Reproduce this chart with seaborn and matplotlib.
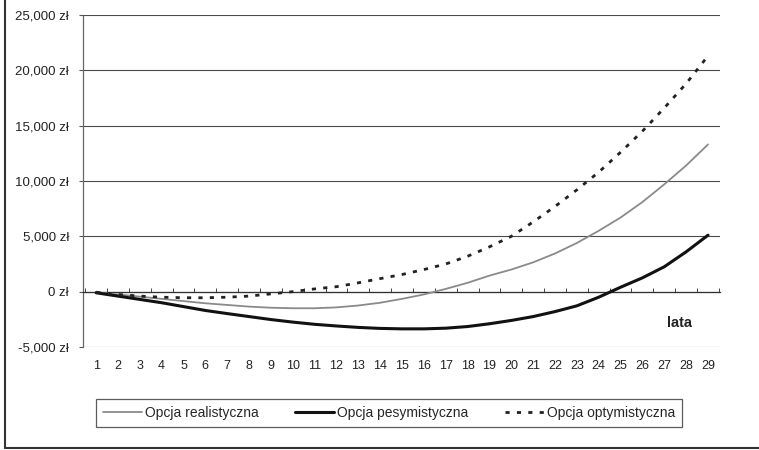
import numpy as np
import pandas as pd
import matplotlib
matplotlib.use("Agg")
import matplotlib.pyplot as plt
from matplotlib.lines import Line2D
from matplotlib.ticker import FuncFormatter, MultipleLocator
import seaborn as sns

# years on the x axis
lata = list(range(1, 30))

# values (zł)
realistyczna = [-50, -250, -450, -650, -850, -1050, -1200, -1350, -1450, -1500,
                -1500, -1420, -1250, -1000, -650, -250, 250, 800, 1450, 2000,
                2650, 3450, 4400, 5500, 6700, 8100, 9700, 11400, 13300]
pesymistyczna = [-100, -400, -700, -1000, -1350, -1700, -1980, -2250, -2520, -2750,
                 -2950, -3100, -3230, -3320, -3360, -3360, -3300, -3150, -2900, -2600,
                 -2250, -1800, -1280, -500, 400, 1250, 2250, 3600, 5100]
optymistyczna = [-50, -250, -400, -500, -550, -550, -500, -400, -200, 0,
                 250, 450, 800, 1180, 1550, 2000, 2500, 3200, 4050, 5000,
                 6300, 7700, 9200, 10800, 12600, 14500, 16600, 18800, 21300]

nazwy = ["Opcja realistyczna", "Opcja pesymistyczna", "Opcja optymistyczna"]
yticks = [-5000, 0, 5000, 10000, 15000, 20000, 25000]

df = pd.DataFrame({"rok": lata, nazwy[0]: realistyczna,
                   nazwy[1]: pesymistyczna, nazwy[2]: optymistyczna})

sns.set_style("white")
plt.rcParams["font.family"] = ["Liberation Sans", "DejaVu Sans"]

fig = plt.figure(figsize=(7.59, 4.50), dpi=100)
ax = fig.add_axes([83 / 759, 1 - 347 / 450, (720 - 83) / 759, (347 - 15) / 450])

# grid lines first so the curves sit on top
for v in yticks:
    ax.axhline(v, color="#4a4a4a", lw=0.8, zorder=1)

sns.lineplot(data=df, x="rok", y=nazwy[0], ax=ax, color="#8a8a8a", lw=1.3, zorder=3)
sns.lineplot(data=df, x="rok", y=nazwy[1], ax=ax, color="#111111", lw=2.2, zorder=4)
sns.lineplot(data=df, x="rok", y=nazwy[2], ax=ax, color="#222222", lw=2.0, zorder=4)
ax.lines[-1].set_dashes((1.5, 2.6))

ax.set_xlim(0.4, 29.55)
ax.set_ylim(-5000, 25000)
ax.set_xlabel("")
ax.set_ylabel("")

ax.set_yticks(yticks)
ax.yaxis.set_major_formatter(FuncFormatter(lambda v, p: f"{int(v):,} zł"))
ax.tick_params(axis="y", length=3, width=0.8, color="#555555", pad=7,
               labelsize=9.5, left=True, labelcolor="#222222")

ax.set_xticks(lata)
ax.xaxis.set_minor_locator(MultipleLocator(1, offset=0.5))
ax.tick_params(axis="x", which="major", length=0, pad=49, labelsize=9,
               labelcolor="#222222")
ax.tick_params(axis="x", which="minor", length=3, direction="in",
               width=0.7, color="#444444", bottom=True)

for s in ["top", "right"]:
    ax.spines[s].set_visible(False)
ax.spines["bottom"].set_position(("data", 0))
ax.spines["bottom"].set_color("#333333")
ax.spines["bottom"].set_linewidth(0.9)
ax.spines["left"].set_color("#666666")
ax.spines["left"].set_linewidth(0.9)

ax.text(680 / 759, 1 - 323 / 450, "lata", transform=fig.transFigure,
        ha="center", va="center", fontsize=10.5, fontweight="bold", color="#222222")

handles = [Line2D([], [], color="#8a8a8a", lw=1.3),
           Line2D([], [], color="#111111", lw=2.2),
           Line2D([], [], color="#222222", lw=2.0, dashes=(1.5, 2.6))]
leg = fig.legend(handles, nazwy, ncol=3, loc="center",
                 bbox_to_anchor=(389 / 759, 1 - 413 / 450), frameon=True,
                 fancybox=False, fontsize=10, handlelength=2.8, columnspacing=2.6,
                 handletextpad=0.25, borderpad=0.5, borderaxespad=0)
leg.get_frame().set_edgecolor("#333333")
leg.get_frame().set_linewidth(0.9)

# outer frame of the scanned chart (left and bottom edges only)
fig.add_artist(Line2D([5 / 759, 5 / 759], [2 / 450, 1], color="#333333", lw=1.5,
                      transform=fig.transFigure))
fig.add_artist(Line2D([5 / 759, 1], [2 / 450, 2 / 450], color="#333333", lw=1.5,
                      transform=fig.transFigure))

fig.savefig("out.png", dpi=100)
